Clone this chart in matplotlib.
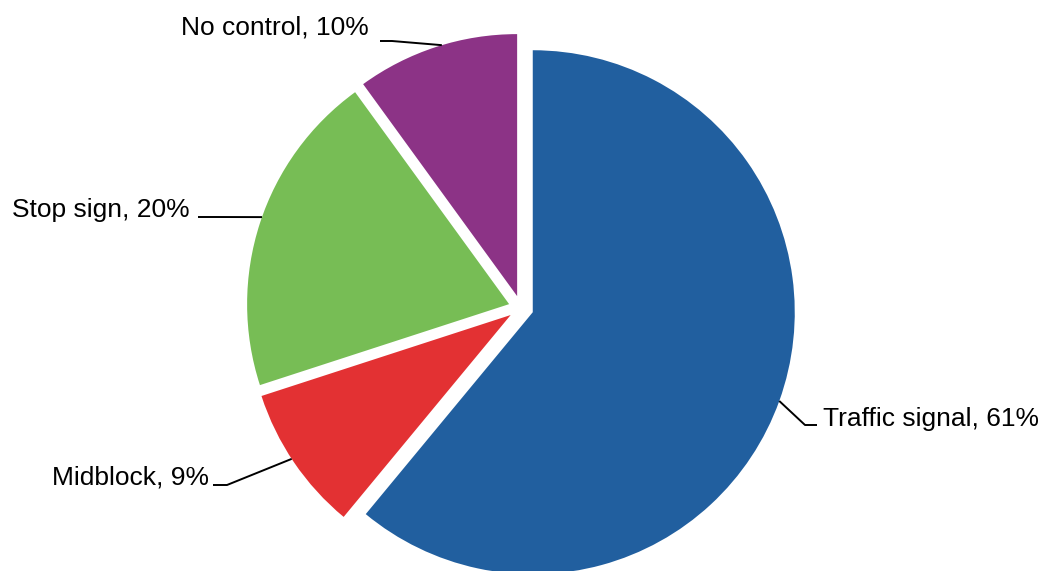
import math
import matplotlib
matplotlib.use("Agg")
import matplotlib.pyplot as plt

# ---- data ----
categories = ["Traffic signal", "Midblock", "Stop sign", "No control"]
shares = [61, 9, 20, 10]
colors = ["#215F9F", "#E33133", "#77BD55", "#8C3386"]

# ---- layout (pixel coordinates, image y measured from top) ----
W, H = 1047, 571
CX, CY = 521, 308          # pie centre (image coords)
R = 262                    # radius in px
EXPLODE = 12.5             # px
# label: (text x, baseline y, ha, elbow x, text-end x, angle tweak in deg, leader y)
label_layout = {
    "Traffic signal": (823, 426, "left", 805, 817, 0.0, 425),
    "Midblock": (209, 485, "right", 227, 213, -0.9, 485),
    "Stop sign": (190, 217, "right", 215, 198, -1.4, 217),
    "No control": (369, 34, "right", 392, 380, -1.3, 41),
}

plt.rcParams["font.family"] = ["Liberation Sans", "DejaVu Sans"]

fig = plt.figure(figsize=(W / 100, H / 100), dpi=100)
ax = fig.add_axes([0, 0, 1, 1])


def Y(y):
    return H - y


wedges, _ = ax.pie(
    shares,
    colors=colors,
    startangle=90,
    counterclock=False,
    radius=R,
    center=(CX, Y(CY)),
    explode=[EXPLODE] * len(shares),
    wedgeprops=dict(linewidth=0),
)

total = sum(shares)
start = 90.0
for cat, val in zip(categories, shares):
    span = 360.0 * val / total
    mid = start - span / 2.0
    start -= span
    tx, ty, ha, ex, tend, tweak, leady = label_layout[cat]
    mrad = math.radians(mid)
    cx = CX + EXPLODE * math.cos(mrad)
    cy = Y(CY) + EXPLODE * math.sin(mrad)
    arad = math.radians(mid + tweak)
    px = cx + R * math.cos(arad)
    py = cy + R * math.sin(arad)
    ly = Y(leady)
    ax.plot([tend, ex, px], [ly, ly, py], color="black", lw=1.4,
            solid_capstyle="butt", zorder=3)
    ax.text(tx, Y(ty), f"{cat}, {val}%", ha=ha, va="baseline",
            fontsize=19, color="black")

ax.set_xlim(0, W)
ax.set_ylim(0, H)
ax.set_aspect("equal")
ax.axis("off")

fig.savefig("out.png", dpi=100, facecolor="white")
